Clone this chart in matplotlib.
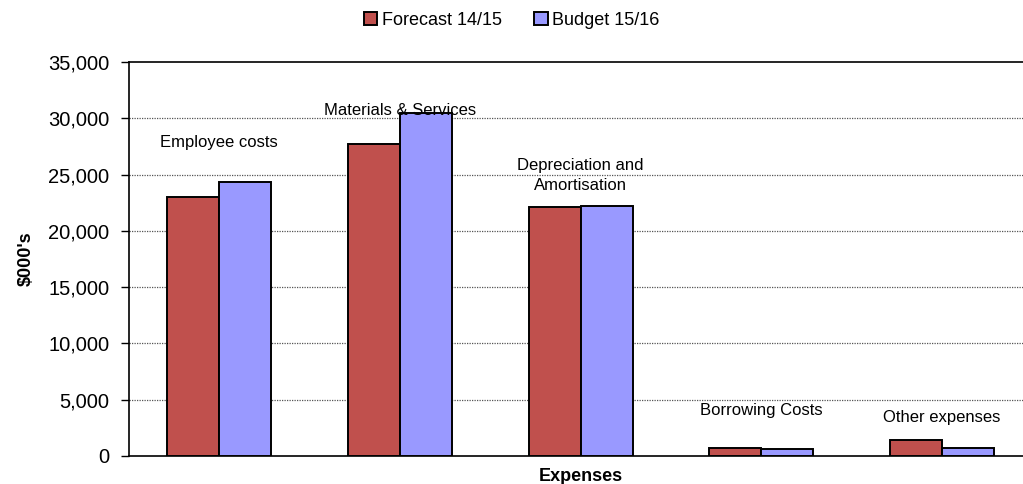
import matplotlib
matplotlib.use("Agg")
import matplotlib.pyplot as plt
import numpy as np
from matplotlib.ticker import FuncFormatter

plt.rcParams['font.family'] = ['Liberation Sans', 'DejaVu Sans']

categories = ["Employee costs", "Materials & Services", "Depreciation and\nAmortisation",
              "Borrowing Costs", "Other expenses"]
forecast_1415 = [23000, 27700, 22100, 700, 1400]
budget_1516 = [24300, 30500, 22200, 650, 700]
series_names = ["Forecast 14/15", "Budget 15/16"]
y_ticks = [0, 5000, 10000, 15000, 20000, 25000, 30000, 35000]

# height at which each category caption sits above its bars
label_heights = [27800, 30650, 24900, 4000, 3400]

fig = plt.figure(figsize=(10.23, 4.84), dpi=100)
ax = fig.add_axes([0.126, 0.058, 0.883, 0.814])

x = np.arange(len(categories))
w = 0.288
b1 = ax.bar(x - w / 2, forecast_1415, w, color="#C0504D", edgecolor="black",
            linewidth=1.4, label=series_names[0], zorder=3)
b2 = ax.bar(x + w / 2, budget_1516, w, color="#9999FF", edgecolor="black",
            linewidth=1.4, label=series_names[1], zorder=3)

for xi, name, h in zip(x, categories, label_heights):
    ax.text(xi, h, name, ha="center", va="center", fontsize=12,
            linespacing=1.4, zorder=4)

ax.set_xlim(-0.5, len(categories) - 0.5)
ax.set_ylim(0, 35000)
ax.set_yticks(y_ticks)
ax.yaxis.set_major_formatter(FuncFormatter(lambda v, p: f"{int(v):,}"))
ax.tick_params(axis="y", direction="out", length=6, width=1, labelsize=14.5, pad=8)
ax.set_xticks([])

for yv in y_ticks[1:-1]:
    ax.axhline(yv, color="#555555", linestyle=(0, (1, 1)), linewidth=0.9, zorder=1)

ax.spines["right"].set_visible(False)
ax.spines["top"].set_linewidth(1.2)
ax.spines["left"].set_linewidth(1.2)
ax.spines["bottom"].set_linewidth(1.2)

ax.set_xlabel("Expenses", fontsize=13, fontweight="bold", labelpad=9)
ax.set_ylabel("$000's", fontsize=13, fontweight="bold", labelpad=10)

fig.legend(handles=[b1, b2], loc="center", bbox_to_anchor=(0.5, 0.958), ncol=2,
           frameon=False, fontsize=13, handlelength=0.75, handleheight=0.75,
           handletextpad=0.25, columnspacing=1.8)

fig.savefig("out.png", dpi=100)
